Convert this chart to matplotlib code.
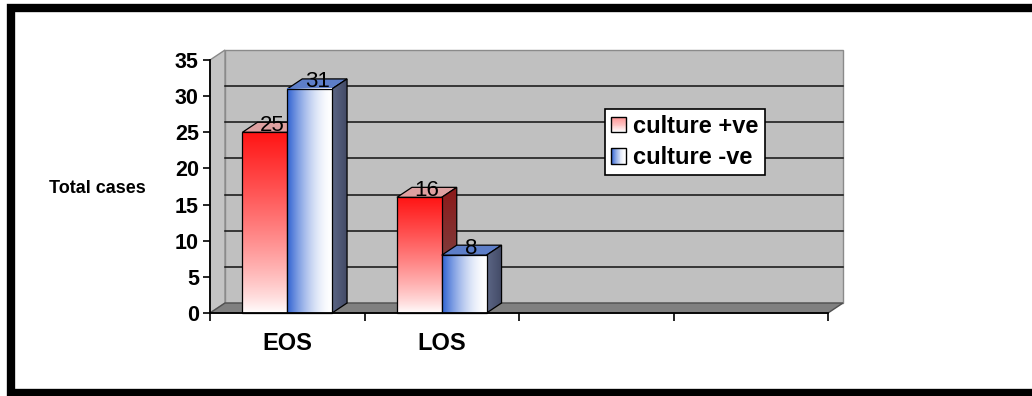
import numpy as np
import matplotlib
matplotlib.use("Agg")
import matplotlib.pyplot as plt
from matplotlib.patches import Polygon, Rectangle
from matplotlib.lines import Line2D
from matplotlib.legend_handler import HandlerBase

# ---- data ----
categories = ["EOS", "LOS"]
culture_pos = [25, 16]
culture_neg = [31, 8]
series_labels = ["culture +ve", "culture -ve"]
y_ticks = [0, 5, 10, 15, 20, 25, 30, 35]
y_label = "Total cases"

# ---- styling ----
plt.rcParams["font.family"] = ["Liberation Sans", "DejaVu Sans"]
N_SLOTS = 4            # category slots on the floor
BAR_W = 0.29           # width of one bar in category units
DEPTH_PX = (15, 10)    # 3-D depth offset in pixels (right, up)

RED = np.array([1.0, 0.08, 0.08])
BLUE = np.array([0.18, 0.38, 0.82])
WHITE = np.array([1.0, 1.0, 1.0])


def red_gradient(n=256):
    t = np.linspace(0, 1, n)[:, None]          # 0 at top, 1 at bottom
    w = (1 - t) ** 0.8
    return (WHITE + (RED - WHITE) * w)[:, None, :]


def blue_gradient(n=256):
    s = np.linspace(0, 1, n)[None, :]          # 0 at left, 1 at right
    w = (1 - s) ** 1.7
    return (WHITE + (BLUE - WHITE) * w[..., None])


def two_tone(c0, c1, n=64, vertical=True):
    t = np.linspace(0, 1, n)
    cols = np.array(c0)[None, :] + (np.array(c1) - np.array(c0))[None, :] * t[:, None]
    return cols[:, None, :] if vertical else cols[None, :, :]


fig = plt.figure(figsize=(10.32, 3.96), dpi=100)
ax = fig.add_axes([210 / 1032, 83 / 396, 618 / 1032, 253 / 396])
ax.set_xlim(0, N_SLOTS)
ax.set_ylim(0, y_ticks[-1])
ax.patch.set_visible(False)

inv = ax.transData.inverted()
ddx, ddy = inv.transform(DEPTH_PX) - inv.transform((0, 0))
ytop = y_ticks[-1]

# back wall, left wall and floor
ax.add_patch(Polygon([(ddx, ddy), (N_SLOTS + ddx, ddy), (N_SLOTS + ddx, ytop + ddy), (ddx, ytop + ddy)],
                     closed=True, facecolor="#c0c0c0", edgecolor="#8a8a8a", lw=1.0,
                     clip_on=False, zorder=0.5))
ax.add_patch(Polygon([(0, 0), (ddx, ddy), (ddx, ytop + ddy), (0, ytop)],
                     closed=True, facecolor="#c4c4c4", edgecolor="#8a8a8a", lw=1.0,
                     clip_on=False, zorder=0.6))
ax.add_patch(Polygon([(0, 0), (N_SLOTS, 0), (N_SLOTS + ddx, ddy), (ddx, ddy)],
                     closed=True, facecolor="#808080", edgecolor="#505050", lw=1.0,
                     clip_on=False, zorder=0.7))
for v in y_ticks[1:-1]:
    ax.plot([ddx, N_SLOTS + ddx], [v + ddy, v + ddy], color="#111111", lw=1.1,
            clip_on=False, zorder=0.8)


def draw_bar(x0, h, front, side, top_color, z):
    x1 = x0 + BAR_W
    # top face
    ax.add_patch(Polygon([(x0, h), (x1, h), (x1 + ddx, h + ddy), (x0 + ddx, h + ddy)],
                         closed=True, facecolor=top_color, edgecolor="black", lw=0.9,
                         clip_on=False, zorder=z))
    # side face
    side_poly = Polygon([(x1, 0), (x1 + ddx, ddy), (x1 + ddx, h + ddy), (x1, h)],
                        closed=True, facecolor="none", edgecolor="black", lw=0.9,
                        clip_on=False, zorder=z + 0.02)
    ax.add_patch(side_poly)
    im = ax.imshow(side, extent=(x1, x1 + ddx, 0, h + ddy), origin="upper",
                   aspect="auto", interpolation="bilinear", zorder=z + 0.01)
    im.set_clip_path(side_poly)
    # front face
    ax.imshow(front, extent=(x0, x1, 0, h), origin="upper", aspect="auto",
              interpolation="bilinear", zorder=z + 0.03, clip_on=False)
    ax.add_patch(Rectangle((x0, 0), BAR_W, h, facecolor="none", edgecolor="black",
                           lw=0.9, clip_on=False, zorder=z + 0.04))
    ax.text(x0 + BAR_W / 2 + ddx / 2, h + ddy * 0.15, f"{h:g}", ha="center", va="baseline",
            fontsize=16, color="black", zorder=z + 0.05, clip_on=False)


z = 2
for i, (p, n) in enumerate(zip(culture_pos, culture_neg)):
    center = i + 0.5
    draw_bar(center - BAR_W, p, red_gradient(),
             two_tone((0.55, 0.10, 0.10), (0.46, 0.34, 0.34)), "#dea0a0", z)
    z += 0.1
    draw_bar(center, n, blue_gradient(),
             two_tone((0.36, 0.40, 0.52), (0.26, 0.29, 0.40), vertical=False), "#5d7ec8", z)
    z += 0.1

ax.set_xlim(0, N_SLOTS)
ax.set_ylim(0, ytop)

# axes, ticks and labels on the front plane
for s in ("top", "right"):
    ax.spines[s].set_visible(False)
for s in ("left", "bottom"):
    ax.spines[s].set_color("black")
    ax.spines[s].set_linewidth(1.3)
    ax.spines[s].set_zorder(5)
ax.set_yticks(y_ticks)
ax.set_yticklabels([str(t) for t in y_ticks], fontsize=15.5, fontweight="bold")
ax.tick_params(axis="y", direction="out", length=5, width=1.2, pad=3)
ax.set_xticks(range(N_SLOTS + 1))
ax.set_xticklabels([])
ax.tick_params(axis="x", which="major", direction="out", length=6, width=1.2)
ax.set_xticks([i + 0.5 for i in range(len(categories))], minor=True)
ax.set_xticklabels(categories, minor=True, fontsize=17, fontweight="bold")
ax.tick_params(axis="x", which="minor", length=0, pad=14)

ax.set_ylabel(y_label, rotation=0, fontsize=13, fontweight="bold", ha="center", va="center")
ax.yaxis.set_label_coords(-0.183, 0.494)


# legend with gradient swatches
class GradientSwatch(HandlerBase):
    def __init__(self, colors, vertical):
        super().__init__()
        self.colors = colors
        self.vertical = vertical

    def create_artists(self, legend, orig_handle, xdescent, ydescent, width, height, fontsize, trans):
        size = min(width, height)
        x0 = -xdescent + (width - size) / 2
        y0 = -ydescent + (height - size) / 2
        arts = []
        n = len(self.colors)
        for k, c in enumerate(self.colors):
            if self.vertical:
                r = Rectangle((x0, y0 + size - (k + 1) * size / n), size, size / n * 1.05,
                              facecolor=c, edgecolor="none", lw=0, transform=trans)
            else:
                r = Rectangle((x0 + k * size / n, y0), size / n * 1.05, size,
                              facecolor=c, edgecolor="none", lw=0, transform=trans)
            arts.append(r)
        arts.append(Rectangle((x0, y0), size, size, facecolor="none", edgecolor="black",
                              lw=1.0, transform=trans))
        return arts


red_cols = 0.45 * red_gradient(16)[:, 0, :] + 0.55 * WHITE
blue_cols = blue_gradient(16)[0]
h_pos = Rectangle((0, 0), 1, 1)
h_neg = Rectangle((0, 0), 1, 1)
leg = ax.legend([h_pos, h_neg], series_labels,
                handler_map={h_pos: GradientSwatch(list(red_cols), True),
                             h_neg: GradientSwatch(list(blue_cols), False)},
                loc="upper left", bbox_to_anchor=(605 / 1032, 1 - 109 / 396),
                bbox_transform=fig.transFigure, borderaxespad=0,
                prop={"size": 17, "weight": "bold"}, frameon=True, fancybox=False,
                edgecolor="black", framealpha=1, borderpad=0.25, handlelength=0.65,
                handleheight=0.65, handletextpad=0.3, labelspacing=0.35)
leg.get_frame().set_linewidth(1.2)
leg.set_zorder(10)

# outer frame (left, top and bottom sides)
fx = 11 / 1032
fig.add_artist(Line2D([1.02, fx, fx, 1.02], [1 - 8 / 396, 1 - 8 / 396, 3.5 / 396, 3.5 / 396],
                      transform=fig.transFigure, color="black", lw=6,
                      solid_joinstyle="miter"))

fig.savefig("out.png", dpi=100)
